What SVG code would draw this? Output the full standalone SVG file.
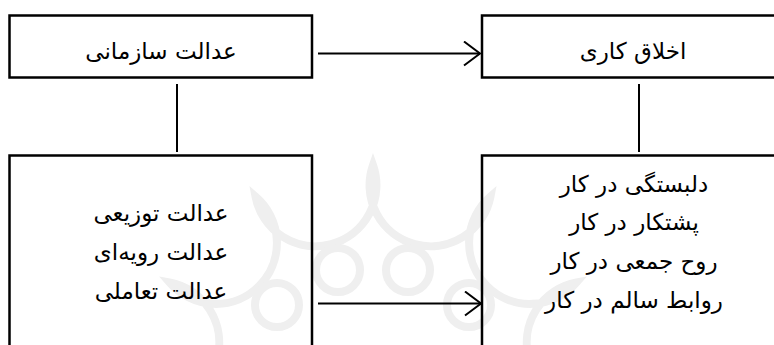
<svg xmlns="http://www.w3.org/2000/svg" width="774" height="345" viewBox="0 0 774 345">
<style>
.box{fill:none;stroke:#000;stroke-width:2.5}
.ln{fill:none;stroke:#000;stroke-width:2}
.wm{fill:none;stroke:#efefef;stroke-width:8}
text{font-family:"DejaVu Sans","Noto Sans",sans-serif;font-size:23px;fill:#000;text-anchor:middle}
</style>
<defs>
<marker id="chev" viewBox="0 0 18 26" refX="17" refY="13" markerWidth="18" markerHeight="26" markerUnits="userSpaceOnUse" orient="auto">
<path d="M1,1 L17,13 L1,25" fill="none" stroke="#000" stroke-width="2"/>
</marker>
</defs>
<rect width="774" height="345" fill="#fff"/>
<g id="watermark">
<path class="wm" d="M138,400 A61,61 0 1 0 169.5,282.5 A61,61 0 1 0 255.5,196.5 A61,61 0 1 0 373,165 A61,61 0 1 0 490.5,196.5 A61,61 0 1 0 576.5,282.5 A61,61 0 1 0 608,400"/>
<circle class="wm" cx="338" cy="270" r="22"/>
<circle class="wm" cx="408" cy="270" r="22"/>
<circle class="wm" cx="277" cy="305" r="22"/>
<circle class="wm" cx="469" cy="305" r="22"/>
</g>
<g id="n1">
<rect class="box" x="9.5" y="15.5" width="302.5" height="62"/>
<text x="161" y="59">عدالت سازمانی</text>
</g>
<g id="n2">
<rect class="box" x="482" y="15.5" width="300" height="62"/>
<text x="633" y="59">اخلاق کاری</text>
</g>
<g id="n3">
<rect class="box" x="9.5" y="155.5" width="302.5" height="200"/>
<text x="161" y="221">عدالت توزیعی</text>
<text x="161" y="260">عدالت رویه‌ای</text>
<text x="161" y="299">عدالت تعاملی</text>
</g>
<g id="n4">
<rect class="box" x="482" y="155.5" width="300" height="200"/>
<text x="634" y="192">دلبستگی در کار</text>
<text x="634" y="230">پشتکار در کار</text>
<text x="634" y="269">روح جمعی در کار</text>
<text x="634" y="308">روابط سالم در کار</text>
</g>
<g id="connectors">
<line class="ln" x1="318" y1="53.5" x2="480" y2="53.5" marker-end="url(#chev)"/>
<line class="ln" x1="318" y1="303.5" x2="481" y2="303.5" marker-end="url(#chev)"/>
<line class="ln" x1="177" y1="84" x2="177" y2="152"/>
<line class="ln" x1="639" y1="84" x2="639" y2="152"/>
</g>
</svg>
